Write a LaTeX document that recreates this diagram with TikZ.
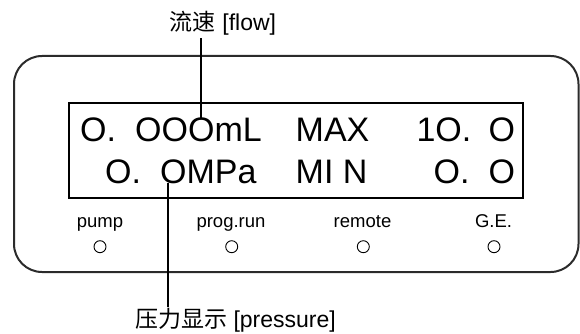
\documentclass[tikz,border=0pt]{standalone}
\usepackage{fontspec}
\setmainfont{Liberation Sans}
\newfontfamily\cjk{Noto Sans CJK SC}
\definecolor{framegray}{HTML}{2B2B2B}
\tikzset{
  lcd/.style={anchor=base west, inner sep=0pt, font=\fontsize{34}{40}\selectfont},
  led/.style={anchor=base, inner sep=0pt, font=\fontsize{18.5}{22}\selectfont},
  callout/.style={inner sep=2pt, font=\fontsize{23}{28}\selectfont},
  lamp/.style={circle, draw=black, line width=0.9pt, minimum size=12pt, inner sep=0pt},
  leader/.style={line width=1.7pt, black}
}
\begin{document}
\begin{tikzpicture}[x=1pt,y=-1pt]
\useasboundingbox (0,0) rectangle (580,334);
% outer housing
\draw[framegray, line width=2pt, rounded corners=28pt] (14,56) rectangle (578.5,272);
% display window
\draw[black, line width=2pt] (69,103.5) rectangle (523,197.5);
% line 1
\node[lcd] (a1) at (80,141.7) {O.};
\node[lcd] (a2) at (135,141.7) {OOOmL};
\node[lcd] (a3) at (295.5,141.7) {MAX};
\node[lcd] (a4) at (416.3,141.7) {1O.};
\node[lcd] (a5) at (488.4,141.7) {O};
% line 2
\node[lcd] (b1) at (105,183.3) {O.};
\node[lcd] (b2) at (160,183.3) {OMPa};
\node[lcd] (b3) at (295.5,183.3) {MI N};
\node[lcd] (b4) at (433.4,183.3) {O.};
\node[lcd] (b5) at (488.4,183.3) {O};
% indicator labels
\node[led] (l1) at (100,227.5) {pump};
\node[led] (l2) at (231,227.5) {prog.run};
\node[led] (l3) at (362.5,227.5) {remote};
\node[led] (l4) at (493.5,227.5) {G.E.};
\node[lamp] (c1) at (100,246.7) {};
\node[lamp] (c2) at (231.7,246.7) {};
\node[lamp] (c3) at (363.3,246.7) {};
\node[lamp] (c4) at (494,246.7) {};
% callouts
\node[callout] (flow) at (223,23.3) {{\cjk 流速} [flow]};
\node[callout] (press) at (235.5,320) {{\cjk 压力显示} [pressure]};
\coordinate (flowpt) at (201,118.3);
\coordinate (prpt) at (168,183.3);
\draw[leader] (flowpt |- 0,38.3) -- (flowpt);
\draw[leader] (prpt) -- (prpt |- 0,307);
\end{tikzpicture}
\end{document}
